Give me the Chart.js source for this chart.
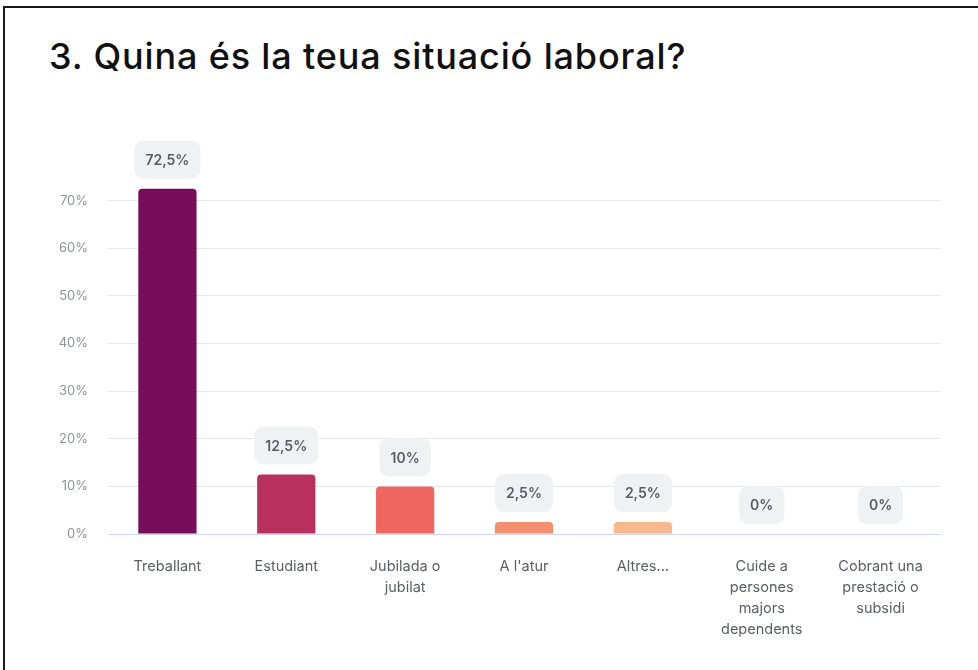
<!DOCTYPE html>
<html>
<head>
<meta charset="utf-8">
<script src="https://cdn.jsdelivr.net/npm/chart.js@4"></script>
<style>
  body { margin: 0; background: #fff; }
  #frame { position: absolute; left: 3px; top: 6px; width: 1000px; height: 700px; border: 2px solid #1a1a1a; }
  #title { position: absolute; left: 49px; top: 34px; font-family: Inter, sans-serif; font-weight: 500; font-size: 36px; color: #111; letter-spacing: 0.85px; white-space: nowrap; }
  #wrap { position: absolute; left: 0; top: 0; width: 978px; height: 670px; }
</style>
</head>
<body>
<div id="frame"></div>
<div id="title">3. Quina és la teua situació laboral?</div>
<div id="wrap"><canvas id="Chart"></canvas></div>
<script>
// answers, in percent
const categories = ['Treballant', 'Estudiant', ['Jubilada o', 'jubilat'], "A l'atur", 'Altres...',
  ['Cuide a', 'persones', 'majors', 'dependents'], ['Cobrant una', 'prestació o', 'subsidi']];
const values = [72.5, 12.5, 10, 2.5, 2.5, 0, 0];
const valueLabels = ['72,5%', '12,5%', '10%', '2,5%', '2,5%', '0%', '0%'];
const barColors = ['#770c5b', '#b8305e', '#ee665f', '#f2906d', '#f6b98e', '#f6b98e', '#f6b98e'];
const yTicks = [0, 10, 20, 30, 40, 50, 60, 70];

const ctx = document.getElementById('Chart').getContext('2d');

// grey rounded bubble above every bar
const bubbles = {
  id: 'bubbles',
  afterDatasetsDraw(chart) {
    const c = chart.ctx;
    const meta = chart.getDatasetMeta(0);
    c.save();
    c.font = '600 14px Inter, sans-serif';
    c.textAlign = 'center';
    c.textBaseline = 'middle';
    meta.data.forEach(function(bar, i) {
      const txt = valueLabels[i];
      const w = c.measureText(txt).width + 22;
      const h = 38;
      const x = bar.x - w / 2;
      const y = bar.y - 10 - h;
      c.fillStyle = '#f0f1f2';
      c.beginPath();
      c.roundRect(x, y, w, h, 9);
      c.fill();
      c.fillStyle = '#585c66';
      c.fillText(txt, bar.x, y + h / 2 + 1);
    });
    c.restore();
  }
};

new Chart(ctx, {
  type: 'bar',
  data: {
    labels: categories,
    datasets: [{
      data: values,
      backgroundColor: barColors,
      borderRadius: { topLeft: 4, topRight: 4 },
      borderSkipped: 'bottom',
      barPercentage: 0.49,
      categoryPercentage: 1
    }]
  },
  options: {
    responsive: true,
    maintainAspectRatio: false,
    animation: false,
    layout: { padding: { left: 40, right: 38, top: 153, bottom: 26 } },
    plugins: { legend: { display: false }, tooltip: { enabled: false } },
    scales: {
      y: {
        min: 0,
        max: 80,
        afterBuildTicks(scale) { scale.ticks = yTicks.map(v => ({ value: v })); },
        afterFit(scale) { scale.width = 68; },
        border: { display: false },
        grid: { color: '#e6e7ec', drawTicks: false, lineWidth: 1 },
        ticks: {
          padding: 20,
          color: '#8f9298',
          font: { family: 'Inter, sans-serif', size: 13 },
          callback: v => v + '%'
        }
      },
      x: {
        afterFit(scale) { scale.height = 110; },
        border: { display: true, color: '#cdd5f0' },
        grid: { display: false },
        ticks: {
          padding: 14,
          maxRotation: 0,
          autoSkip: false,
          color: '#5b5e66',
          font: { family: 'Inter, sans-serif', size: 14.5, lineHeight: 1.45 }
        }
      }
    }
  },
  plugins: [bubbles]
});
</script>
</body>
</html>
